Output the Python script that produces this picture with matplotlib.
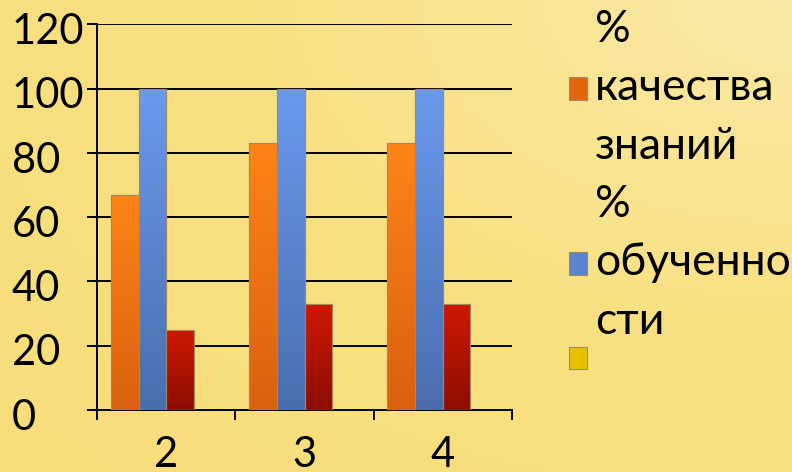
import numpy as np
import matplotlib
matplotlib.use("Agg")
import matplotlib.pyplot as plt
from matplotlib.colors import LinearSegmentedColormap
from matplotlib.patches import Patch
from matplotlib.transforms import ScaledTranslation

categories = ["2", "3", "4"]
quality = [67, 83, 83]        # % качества знаний
learning = [100, 100, 100]    # % обученности
third = [25, 33, 33]          # red series
fourth = [0, 0, 0]            # empty series (yellow)
legend_labels = ["%\nкачества\nзнаний", "%\nобученно\nсти", ""]
yticks = [0, 20, 40, 60, 80, 100, 120]

plt.rcParams['font.family'] = ['Lato', 'Open Sans', 'DejaVu Sans']

fig = plt.figure(figsize=(7.92, 4.72), dpi=100)

# background gradient
bg = fig.add_axes([0, 0, 1, 1], zorder=-10)
yy, xx = np.mgrid[0:1:200j, 0:1:300j]
d = np.sqrt((xx - 1.0) ** 2 + (yy - 0.0) ** 2)
bg_cmap = LinearSegmentedColormap.from_list("bg", ["#FAE9A6", "#F8E082", "#F7DD7A"])
bg.imshow(d, cmap=bg_cmap, aspect='auto', extent=[0, 1, 0, 1], origin='upper', vmin=0, vmax=1.4)
bg.set_axis_off()

ax = fig.add_axes([97/792, 62/472, 415/792, (410-24.3)/472])
ax.patch.set_alpha(0)

x = np.arange(len(categories))
w = 0.2
series = [
    (quality, ["#FF8418", "#D9600F"], -1.5),
    (learning, ["#6A9AEE", "#4A6DAE"], -0.5),
    (third, ["#D01800", "#8C0E00"], 0.5),
    (fourth, ["#FFD800", "#C9A000"], 1.5),
]
edge = "#A08A60"
for vals, cols, off in series:
    bars = ax.bar(x + off * w, vals, width=w, color=cols[0], edgecolor=edge, linewidth=0.8, zorder=3)
    cmap = LinearSegmentedColormap.from_list("g", [cols[1], cols[0]])
    for b in bars:
        h = b.get_height()
        if h <= 0:
            continue
        grad = np.linspace(0, 1, 256).reshape(-1, 1)
        im = ax.imshow(grad, cmap=cmap, aspect='auto', origin='lower',
                       extent=[b.get_x(), b.get_x() + b.get_width(), 0, h], zorder=3.5)
        im.set_clip_path(b)
    for b in bars:
        if b.get_height() > 0:
            ax.add_patch(plt.Rectangle((b.get_x(), 0), b.get_width(), b.get_height(),
                                       fill=False, edgecolor=edge, linewidth=0.8, zorder=4))

ax.set_xlim(-0.5, len(categories) - 0.5)
ax.set_ylim(0, 120)
ax.set_yticks(yticks)
ax.yaxis.grid(True, color='black', linewidth=1.4)
ax.set_axisbelow(True)
for s in ['top', 'right']:
    ax.spines[s].set_visible(False)
for s in ['left', 'bottom']:
    ax.spines[s].set_color('black')
    ax.spines[s].set_linewidth(1.4)

ax.set_xticks(np.arange(len(categories) + 1) - 0.5)
ax.set_xticklabels([])
ax.set_xticks(x, minor=True)
ax.set_xticklabels(categories, minor=True)
ax.tick_params(axis='x', which='major', length=7.5, width=1.4, color='black', direction='out')
ax.tick_params(axis='x', which='minor', length=0, pad=19, labelsize=30)
ax.tick_params(axis='y', length=7.5, width=1.4, color='black', labelsize=30, pad=54)
off = ScaledTranslation(0, -3/72, fig.dpi_scale_trans)
for lab in ax.get_yticklabels():
    lab.set_horizontalalignment('left')
    lab.set_transform(lab.get_transform() + off)

handles = [Patch(facecolor="#E2650F", edgecolor=edge, linewidth=0.8),
           Patch(facecolor="#5A84D0", edgecolor=edge, linewidth=0.8),
           Patch(facecolor="#E8C000", edgecolor=edge, linewidth=0.8)]
leg = fig.legend(handles, legend_labels, loc='upper left', bbox_to_anchor=(569/792, 1 - 9/472),
                 frameon=False, fontsize=32, handlelength=0.4, handleheight=0.4,
                 handletextpad=0.18, labelspacing=0.38, borderpad=0, borderaxespad=0)
for t in leg.get_texts():
    t.set_linespacing(1.53)
leg.get_texts()[2].set_fontsize(12)
yh = leg.legend_handles[2]
yh.set_y(yh.get_y() + 8.6)

fig.savefig("out.png", dpi=100)
